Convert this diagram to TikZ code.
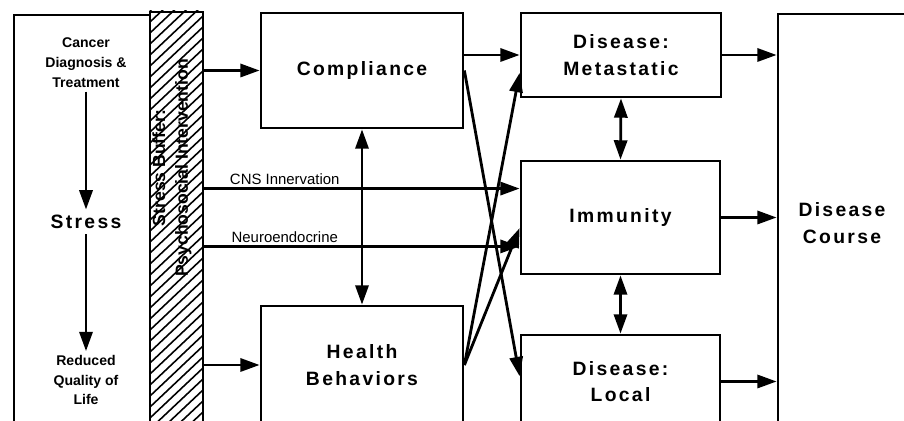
\documentclass[tikz,border=0pt]{standalone}
\usepackage{fontspec}
\setmainfont{Liberation Sans}
\newfontfamily\widefont[LetterSpace=12.0]{Liberation Sans}
\usepackage{tikz}
\usetikzlibrary{calc,arrows.meta}
\tikzset{
  box/.style={draw, line width=1.6pt, rectangle, inner sep=0pt, align=center,
    font=\widefont\bfseries\fontsize{11}{15}\selectfont},
  frame/.style={draw, line width=1.6pt, rectangle, inner sep=0pt},
  arr/.style={line width=1.6pt, -{Triangle[length=11pt,width=7.5pt]}},
  twoway/.style={line width=1.6pt, {Triangle[length=11pt,width=7.5pt]}-{Triangle[length=11pt,width=7.5pt]}},
  small/.style={align=center, inner sep=2pt, font=\bfseries\fontsize{8}{11.3}\selectfont},
  big/.style={inner sep=3pt, font=\widefont\bfseries\fontsize{11}{14}\selectfont},
  lbl/.style={inner sep=1.5pt, font=\fontsize{8.5}{10}\selectfont},
  bandtxt/.style={align=center, rotate=90, inner sep=0pt, font=\bfseries\fontsize{10}{13}\selectfont},
  hatch/.style={line width=0.9pt},
}

\begin{document}
\begin{tikzpicture}[x=0.02cm,y=-0.02cm]
  \useasboundingbox (0,0) rectangle (904,421);
  \clip (0,0) rectangle (904,421);

  % left column and buffer band
  \node[frame, minimum width=2.72cm, minimum height=8.5cm] (outer) at (82,227.5) {};
  \node[frame, minimum width=1.06cm, minimum height=8.56cm] (band) at (176.5,226) {};
  \begin{scope}
    \clip (band.south west) rectangle (band.north east);
    \foreach \y in {0,11,...,500}
      \draw[hatch] (150,\y) -- (203,\y-50);
  \end{scope}
  \node[bandtxt] (buffer) at (172,168) {Stress Buffer:\\Psychosocial Intervention};

  \node[small] (cancer) at (86,63) {Cancer\\Diagnosis \&\\Treatment};
  \node[big] (stress) at (86,222) {Stress};
  \node[small] (reduced) at (86,380) {Reduced\\Quality of\\Life};
  \draw[arr] (cancer) -- (stress);
  \draw[arr] (stress) -- (reduced);

  % middle boxes
  \node[box, minimum width=4.04cm, minimum height=2.3cm] (comp) at (362,70.5) {Compliance};
  \node[box, minimum width=4.04cm, minimum height=2.36cm] (health) at (362,365) {Health\\Behaviors};

  % disease boxes
  \node[box, minimum width=4.0cm, minimum height=1.68cm] (meta) at (621,55) {Disease:\\Metastatic};
  \node[box, minimum width=3.98cm, minimum height=2.26cm] (imm) at (620.5,217.5) {Immunity};
  \node[box, minimum width=3.98cm, minimum height=1.86cm] (local) at (620.5,381.5) {Disease:\\Local};
  \node[box, minimum width=2.56cm, minimum height=8.36cm] (course) at (842,223) {Disease\\Course};

  % connectors
  \draw[arr] (band.east |- comp.west) -- (comp.west);
  \draw[arr] (band.east |- health.west) -- (health.west);
  \draw[twoway] (comp.south) -- (health.north);
  \draw[arr] (band.east |- imm.164) -- node[lbl,above,pos=0.255] (cnslab) {CNS Innervation} (imm.164);
  \draw[arr] (band.east |- imm.196) -- node[lbl,above,pos=0.255] (neurolab) {Neuroendocrine} (imm.196);

  \draw[arr] (comp.east |- meta.west) -- (meta.west);
  \draw[arr] (comp.east) -- (local.177);
  \draw[arr] (health.east) -- (meta.190);
  \draw[arr] (health.east) -- (imm.186);

  \draw[twoway] (meta.south) -- (imm.north);
  \draw[twoway] (imm.south) -- (local.north);

  \draw[arr] (meta.east) -- (course.west |- meta.east);
  \draw[arr] (imm.east) -- (course.west |- imm.east);
  \draw[arr] (local.east) -- (course.west |- local.east);
\end{tikzpicture}
\end{document}
